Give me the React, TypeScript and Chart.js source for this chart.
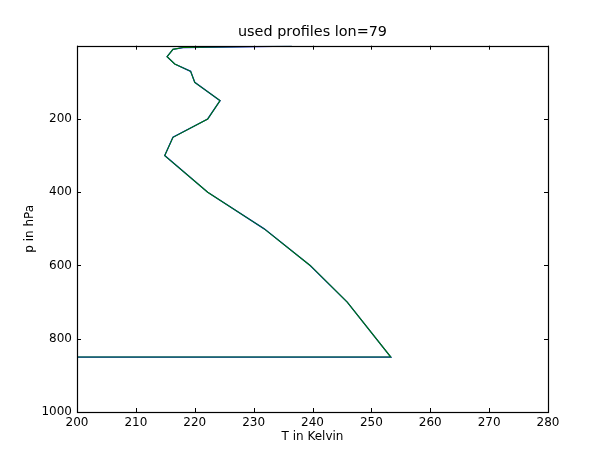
import React, { useEffect, useRef } from "react";
import { Chart, registerables } from "chart.js";

Chart.register(...registerables);

// Pressure levels (hPa) and temperatures (K) of the used profile
const pressure = [1, 5, 10, 30, 50, 70, 100, 150, 200, 250, 300, 400, 500, 600, 700, 850, 850];
const temperature = [236.5, 218.0, 216.3, 215.3, 216.6, 219.3, 220.0, 224.3, 222.2, 216.3, 214.9, 222.2, 231.8, 239.6, 245.9, 253.3, 0];

const xTicks = [200, 210, 220, 230, 240, 250, 260, 270, 280];
const yTicks = [0, 200, 400, 600, 800, 1000];

const titleText = "used profiles lon=79";
const xTitle = "T in Kelvin";
const yTitle = "p in hPa";

const FONT = "'DejaVu Sans', sans-serif";

const framePlugin = {
  id: "mplFrame",
  afterDraw(chart: any) {
    const { ctx, chartArea } = chart;
    const { left, right, top, bottom } = chartArea;
    const xs = chart.scales.x;
    const ys = chart.scales.y;
    const tl = 4;
    ctx.save();
    ctx.strokeStyle = "#000";
    ctx.lineWidth = 1;
    ctx.beginPath();
    for (const v of xTicks) {
      const px = Math.round(xs.getPixelForValue(v)) + 0.5;
      ctx.moveTo(px, bottom);
      ctx.lineTo(px, bottom - tl);
      ctx.moveTo(px, top);
      ctx.lineTo(px, top + tl);
    }
    for (const v of yTicks) {
      const py = Math.round(ys.getPixelForValue(v)) + 0.5;
      ctx.moveTo(left, py);
      ctx.lineTo(left + tl, py);
      ctx.moveTo(right, py);
      ctx.lineTo(right - tl, py);
    }
    ctx.stroke();
    ctx.lineWidth = 1.2;
    ctx.strokeRect(Math.round(left) + 0.5, Math.round(top) + 0.5, Math.round(right - left), Math.round(bottom - top));
    // title centred over the plot area
    ctx.fillStyle = "#000";
    ctx.font = `14.4px ${FONT}`;
    ctx.textAlign = "center";
    ctx.textBaseline = "middle";
    ctx.fillText(titleText, (left + right) / 2, 32.5);
    ctx.restore();
  },
};

export default function App() {
  const ref = useRef<HTMLCanvasElement>(null);
  useEffect(() => {
    const points = pressure.map((p, i) => ({ x: temperature[i], y: p }));
    const chart = new Chart(ref.current as HTMLCanvasElement, {
      type: "scatter",
      data: {
        datasets: [
          {
            data: points.map((d) => ({ ...d })),
            showLine: true,
            borderColor: "#0000ff",
            borderWidth: 1.3,
            pointRadius: 0,
            tension: 0,
            order: 2,
          },
          {
            data: points.map((d) => ({ ...d })),
            showLine: true,
            borderColor: "#008000",
            borderWidth: 1.1,
            pointRadius: 0,
            tension: 0,
            order: 1,
          },
        ],
      },
      options: {
        responsive: false,
        animation: false,
        devicePixelRatio: 1,
        layout: { padding: { left: 0, right: 61, top: 45.7, bottom: 0 } },
        plugins: {
          legend: { display: false },
          tooltip: { enabled: false },
          title: { display: false },
        },
        scales: {
          x: {
            type: "linear",
            min: 200,
            max: 280,
            afterBuildTicks: (s: any) => {
              s.ticks = xTicks.map((v) => ({ value: v }));
            },
            afterFit: (s: any) => {
              s.height = 47;
            },
            grid: { display: false, drawTicks: false },
            border: { display: false },
            ticks: {
              color: "#000",
              font: { family: FONT, size: 12 },
              padding: 4,
              maxRotation: 0,
              autoSkip: false,
              callback: (v: any) => String(v),
            },
            title: {
              display: true,
              text: xTitle,
              color: "#000",
              font: { family: FONT, size: 12 },
              padding: { top: 0, bottom: 14.8 },
            },
          },
          y: {
            type: "linear",
            min: 0,
            max: 1000,
            reverse: true,
            afterBuildTicks: (s: any) => {
              s.ticks = yTicks.filter((v) => v !== 0).map((v) => ({ value: v }));
            },
            afterFit: (s: any) => {
              s.width = 77;
            },
            grid: { display: false, drawTicks: false },
            border: { display: false },
            ticks: {
              color: "#000",
              font: { family: FONT, size: 12 },
              padding: 5,
              autoSkip: false,
              callback: (v: any) => String(v),
            },
            title: {
              display: true,
              text: yTitle,
              color: "#000",
              font: { family: FONT, size: 12 },
              padding: { top: 22.8, bottom: 0 },
            },
          },
        },
      },
      plugins: [framePlugin],
    });
    return () => chart.destroy();
  }, []);
  return (
    <div style={{ position: "fixed", left: 0, top: 0, width: 609, height: 459, background: "#fff" }}>
      <canvas ref={ref} width={609} height={459} />
    </div>
  );
}
